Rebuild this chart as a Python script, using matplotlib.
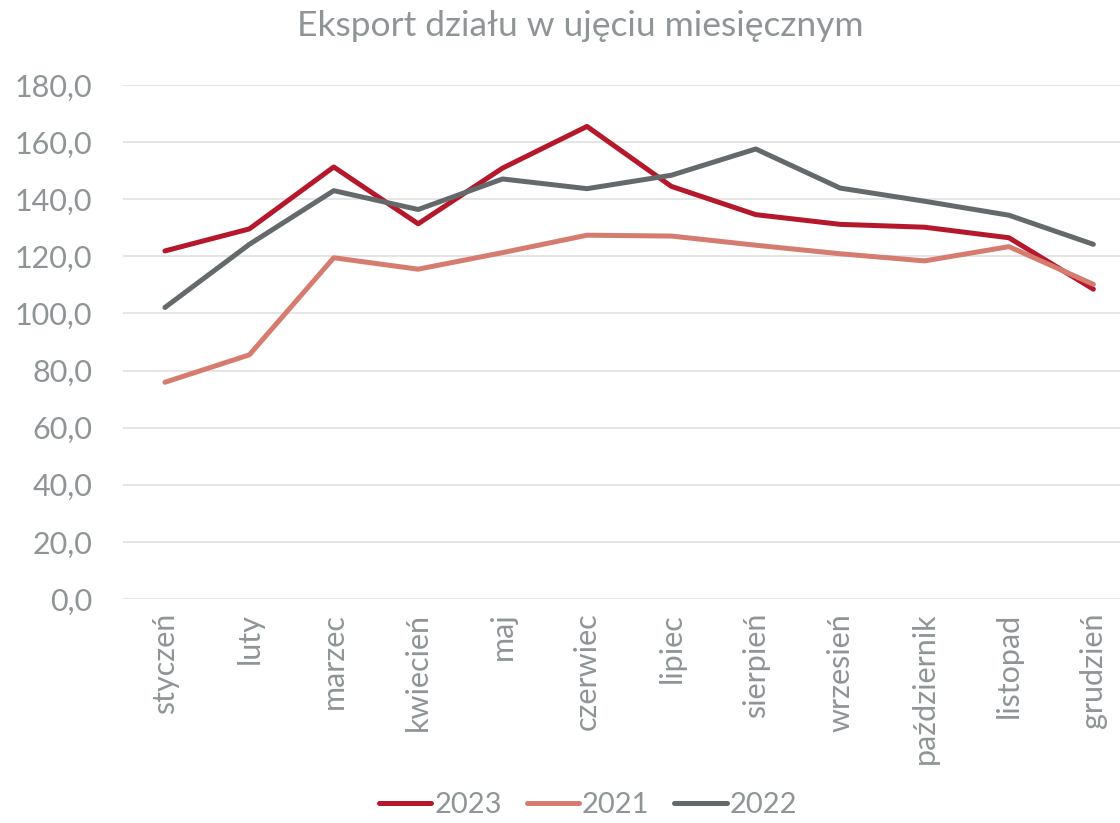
import matplotlib.pyplot as plt

# miesięczne wartości eksportu
miesiace = ['styczeń', 'luty', 'marzec', 'kwiecień', 'maj', 'czerwiec',
            'lipiec', 'sierpień', 'wrzesień', 'październik', 'listopad', 'grudzień']
eksport_2023 = [121.9, 129.6, 151.3, 131.4, 150.9, 165.5,
                144.5, 134.6, 131.2, 130.2, 126.5, 108.5]
eksport_2021 = [75.9, 85.5, 119.5, 115.5, 121.3, 127.4,
                127.1, 123.9, 120.9, 118.4, 123.4, 110.2]
eksport_2022 = [102.1, 124.2, 143.0, 136.4, 147.1, 143.7,
                148.4, 157.6, 143.9, 139.3, 134.4, 124.2]

szary = '#8f9597'
plt.rcParams['font.family'] = ['Lato', 'DejaVu Sans']

fig = plt.figure(figsize=(11.2, 8.23), dpi=100)
ax = fig.add_axes([0.1096, 0.2722, 0.9043, 0.6245])

x = range(len(miesiace))
ax.plot(x, eksport_2023, color='#b5182b', lw=3.6, label='2023', solid_capstyle='round')
ax.plot(x, eksport_2021, color='#d57b6f', lw=3.6, label='2021', solid_capstyle='round')
ax.plot(x, eksport_2022, color='#646a6b', lw=3.6, label='2022', solid_capstyle='round')

ax.set_xlim(-0.5, len(miesiace) - 0.5)
ax.set_ylim(0, 180)
ax.set_yticks(range(0, 181, 20))
ax.set_yticklabels([f'{v},0' for v in range(0, 181, 20)])
ax.set_xticks(list(x))
ax.set_xticklabels(miesiace, rotation=90)

ax.grid(axis='y', color='#e3e3e3', lw=1.3)
ax.set_axisbelow(True)
for s in ax.spines.values():
    s.set_visible(False)
ax.tick_params(axis='both', length=0, colors=szary, labelsize=22)
ax.tick_params(axis='y', pad=22)
ax.tick_params(axis='x', pad=10)

fig.text(0.518, 0.968, 'Eksport działu w ujęciu miesięcznym', ha='center', va='center',
         fontsize=25.5, color=szary)

fig.legend(loc='center', bbox_to_anchor=(0.525, 0.022), ncol=3, frameon=False,
           fontsize=21, labelcolor=szary, handlelength=1.8, handletextpad=0.1,
           columnspacing=0.85)

fig.savefig('out.png', dpi=100)
